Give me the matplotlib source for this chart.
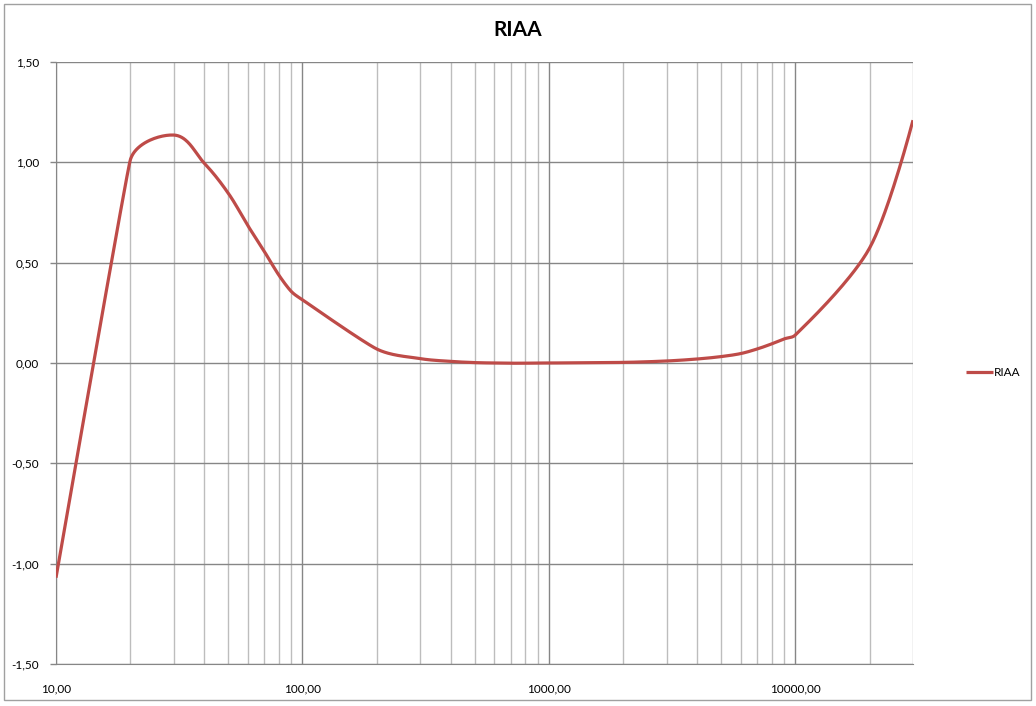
import numpy as np
import matplotlib.pyplot as plt
from matplotlib.ticker import FixedLocator, FuncFormatter, NullFormatter
from matplotlib.patches import Rectangle

# RIAA deviation
freqs = [10, 20, 30, 40, 50, 60, 70, 80, 90,
         100, 200, 300, 400, 500, 600, 700, 800, 900,
         1000, 2000, 3000, 4000, 5000, 6000, 7000, 8000, 9000,
         10000, 20000, 30000]
riaa = [-1.07, 1.01, 1.136, 0.995, 0.846, 0.685, 0.556, 0.44, 0.357,
        0.315, 0.07, 0.022, 0.008, 0.002, 0.0, -0.001, -0.001, 0.0,
        0.0, 0.003, 0.01, 0.02, 0.032, 0.047, 0.07, 0.095, 0.12,
        0.14, 0.573, 1.21]
yticks = [-1.5, -1.0, -0.5, 0.0, 0.5, 1.0, 1.5]


def smooth(xs, ys, n=40, k=0.35):
    # bezier smoothing like a spreadsheet "smoothed line", done in screen-ish units
    sx, sy = 246.7, 200.7  # px per decade, px per unit
    P = np.column_stack([np.log10(xs) * sx, np.asarray(ys, float) * sy])
    N = len(P)
    tang = np.zeros_like(P)
    dist = np.zeros(N)
    for i in range(1, N - 1):
        v = P[i + 1] - P[i - 1]
        tang[i] = v / np.hypot(*v)
        dist[i] = k * min(np.hypot(*(P[i] - P[i - 1])), np.hypot(*(P[i + 1] - P[i])))
    t = np.linspace(0, 1, n)[:, None]
    out = []
    for i in range(N - 1):
        p0, p3 = P[i], P[i + 1]
        p1 = p0 + tang[i] * dist[i]
        p2 = p3 - tang[i + 1] * dist[i + 1]
        out.append((1 - t) ** 3 * p0 + 3 * (1 - t) ** 2 * t * p1
                   + 3 * (1 - t) * t ** 2 * p2 + t ** 3 * p3)
    out = np.vstack(out)
    return 10 ** (out[:, 0] / sx), out[:, 1] / sy


plt.rcParams['font.family'] = ['Lato', 'DejaVu Sans']

fig = plt.figure(figsize=(10.36, 7.06), dpi=100)
ax = fig.add_axes([56 / 1036, 1 - 664 / 706, (913 - 56) / 1036, (664 - 62) / 706])

lx, ly = smooth(freqs, riaa)
ax.plot(lx, ly, color='#BE4B48', lw=2.3, label='RIAA', solid_capstyle='butt', zorder=3)

ax.set_xscale('log')
ax.set_xlim(10, 30000)
ax.set_ylim(-1.5, 1.5)

ax.xaxis.set_major_locator(FixedLocator([10, 100, 1000, 10000]))
minors = [m * 10 ** e for e in range(1, 5) for m in range(2, 10) if m * 10 ** e <= 30000]
ax.xaxis.set_minor_locator(FixedLocator(minors))
ax.xaxis.set_minor_formatter(NullFormatter())
ax.xaxis.set_major_formatter(FuncFormatter(lambda v, p: f'{v:.2f}'.replace('.', ',')))
ax.set_yticks(yticks)
ax.yaxis.set_major_formatter(FuncFormatter(lambda v, p: f'{v:.2f}'.replace('.', ',')))

ax.grid(which='major', axis='both', color='#868686', lw=1.0)
ax.grid(which='minor', axis='x', color='#BDBDBD', lw=1.0)
ax.tick_params(axis='x', which='both', length=0, pad=14, labelsize=8.5)
ax.tick_params(axis='y', length=4, width=1, color='#868686', pad=8, labelsize=8.5)
for s in ['top', 'right']:
    ax.spines[s].set_visible(False)
for s in ['left', 'bottom']:
    ax.spines[s].set_color('#868686')

fig.text(0.5, 1 - 30 / 706, 'RIAA', ha='center', va='center',
         fontsize=15, fontweight='bold')

fig.legend(loc='center left', bbox_to_anchor=(955 / 1036, 1 - 373 / 706),
           frameon=False, fontsize=8.5, handlelength=2.3, handletextpad=0.1)

# chart area border
fig.patches.append(Rectangle((4 / 1036, 6 / 706), 1027 / 1036, 696 / 706,
                             transform=fig.transFigure, fill=False,
                             ec='#A0A0A0', lw=1.0))

fig.savefig('out.png', dpi=100)
